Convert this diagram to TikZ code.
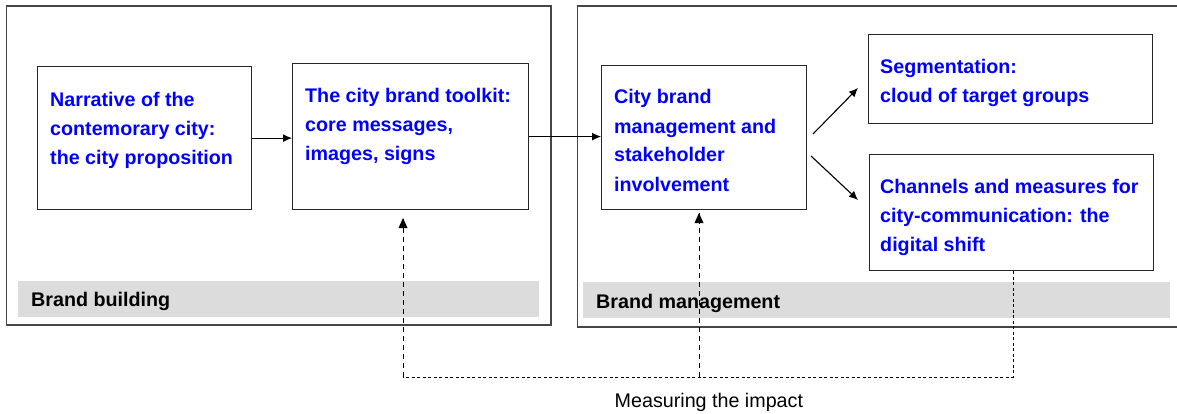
\documentclass[tikz,border=0pt]{standalone}
\usepackage{fontspec}
\setmainfont{Liberation Sans}
\usetikzlibrary{arrows.meta,calc}
\definecolor{txtblue}{RGB}{0,0,255}
\definecolor{framegray}{RGB}{70,70,70}
\definecolor{bargray}{RGB}{220,220,220}
\tikzset{
  frame/.style={draw=framegray, line width=1.2pt, fill=none},
  box/.style={draw=black!85, line width=1.2pt, rectangle, inner sep=0pt, anchor=north west},
  bar/.style={fill=bargray, draw=none, rectangle, inner sep=0pt, anchor=north west},
  txt/.style={anchor=north west, inner sep=0pt, align=left, text=txtblue,
    font=\fontsize{19.7}{29}\selectfont\bfseries},
  lbl/.style={anchor=base west, inner sep=0pt, text=black,
    font=\fontsize{19.7}{24}\selectfont\bfseries},
  arr/.style={line width=1.1pt, -{Latex[length=9pt,width=8pt]}},
  dashA/.style={line width=1pt, dash pattern=on 5pt off 4pt},
  dashB/.style={line width=1pt, dash pattern=on 3pt off 2.5pt},
}
\begin{document}
\begin{tikzpicture}[x=1pt,y=-1pt]
\clip (0,0) rectangle (1177,414);
% frames
\draw[frame] (6.7,6) rectangle (551,325);
\draw[frame] (577.7,6) rectangle (1185,327);
% grey bars
\node[bar, minimum width=521, minimum height=36] (bar1) at (18,281) {};
\node[bar, minimum width=587, minimum height=36] (bar2) at (583,282) {};
\node[lbl] (l1) at (31,306) {Brand building};
\node[lbl] (l2) at (596,308) {Brand management};
% boxes
\node[box, minimum width=214, minimum height=143] (n1) at (37,66) {};
\node[box, minimum width=235.6, minimum height=146] (n2) at (292,63) {};
\node[box, minimum width=205, minimum height=144] (n3) at (601,65) {};
\node[box, minimum width=284.5, minimum height=89] (n4) at (867.5,34) {};
\node[box, minimum width=284.3, minimum height=116] (n5) at (868.7,154) {};
% texts (first baseline minus 20.3)
\node[txt] (t1) at (50,85.7) {\strut Narrative of the\\contemorary city:\\the city proposition};
\node[txt] (t2) at (305,82.5) {\strut The city brand toolkit:\\core messages,\\images, signs};
\node[txt] (t3) at (614,83.5) {\strut City brand\\management and\\stakeholder\\involvement};
\node[txt] (t4) at (880,53.5) {\strut Segmentation:\\cloud of target groups};
\node[txt] (t5) at (880,172.7) {\strut Channels and measures for\\city-communication: the\\digital shift};
% solid arrows
\draw[arr] (n1.east) -- (n1.east -| n2.west);
\draw[arr] (n2.east) -- (n2.east -| n3.west);
\coordinate (a1s) at (813,134);
\coordinate (a1e) at (858,88);
\coordinate (a2s) at (811,156);
\coordinate (a2e) at (858,200);
\draw[arr] (a1s) -- (a1e);
\draw[arr] (a2s) -- (a2e);
% measuring loop
\coordinate (m1) at (403,377);
\coordinate (m2) at (699,377);
\coordinate (m3) at (1013,377);
\coordinate (t2a) at (403,218);
\coordinate (t3a) at (699,213);
\draw[dashB] (n5.south -| m3) -- (m3) -- (m1);
\draw[dashA] (m1) -- (t2a);
\draw[dashA] (m2) -- (t3a);
\fill (t2a) -- ++(-4.5,10) -- ++(9,0) -- cycle;
\fill (t3a) -- ++(-4.5,10) -- ++(9,0) -- cycle;
\node[anchor=base west, inner sep=0pt, font=\fontsize{19.7}{24}\selectfont] (mi) at (614.5,407) {Measuring the impact};
\end{tikzpicture}
\end{document}
